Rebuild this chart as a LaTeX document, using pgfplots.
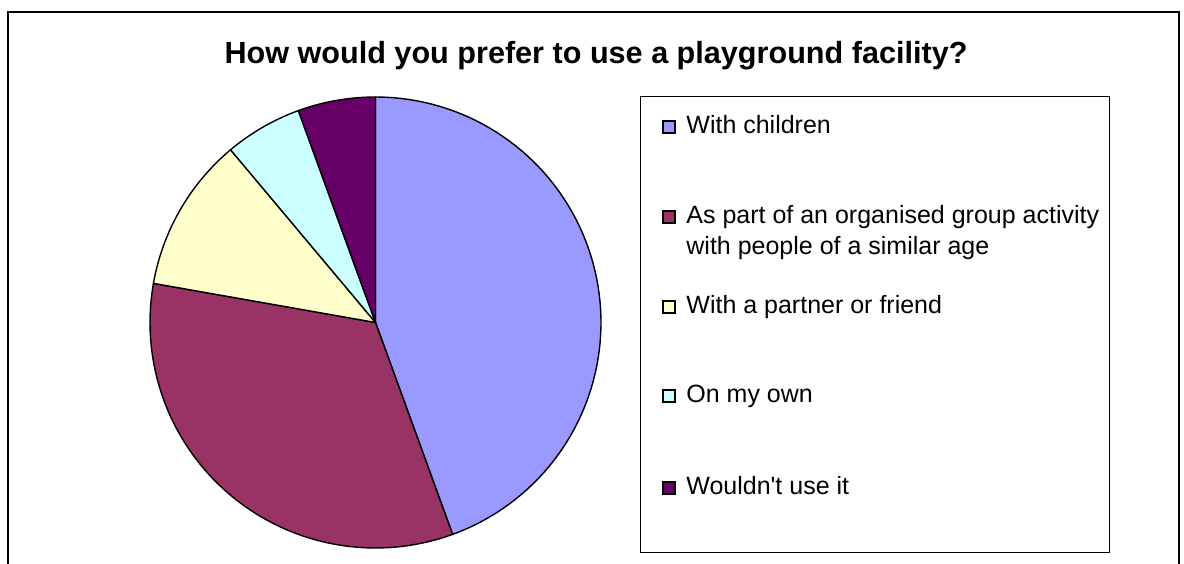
\documentclass[border=0pt]{standalone}
\usepackage{pgfplots}
\usepackage{pgfplotstable}
\pgfplotsset{compat=1.18}
\usepackage{fontspec}
\setmainfont{Liberation Sans}

\definecolor{c1}{HTML}{9999FF}
\definecolor{c2}{HTML}{993366}
\definecolor{c3}{HTML}{FFFFCC}
\definecolor{c4}{HTML}{CCFFFF}
\definecolor{c5}{HTML}{660066}

\pgfplotstableread{
label value
children 8
group 6
partner 2
own 1
wouldnt 1
}\piedata

\pgfplotstablegetelem{0}{value}\of\piedata \edef\vA{\pgfplotsretval}
\pgfplotstablegetelem{1}{value}\of\piedata \edef\vB{\pgfplotsretval}
\pgfplotstablegetelem{2}{value}\of\piedata \edef\vC{\pgfplotsretval}
\pgfplotstablegetelem{3}{value}\of\piedata \edef\vD{\pgfplotsretval}
\pgfplotstablegetelem{4}{value}\of\piedata \edef\vE{\pgfplotsretval}
\pgfmathsetmacro\tot{\vA+\vB+\vC+\vD+\vE}
\pgfmathsetmacro\aO{90}
\pgfmathsetmacro\aA{\aO-360*\vA/\tot}
\pgfmathsetmacro\aB{\aA-360*\vB/\tot}
\pgfmathsetmacro\aC{\aB-360*\vC/\tot}
\pgfmathsetmacro\aD{\aC-360*\vD/\tot}
\pgfmathsetmacro\aE{\aD-360*\vE/\tot}

\begin{document}
\begin{tikzpicture}[x=0.5pt,y=0.5pt]
\useasboundingbox (0,0) rectangle (1184,563);
% outer chart frame
\draw[line width=0.75pt] (8,-20) -- (8,551) -- (1179,551) -- (1179,-20);
% title
\node[anchor=base, font=\fontsize{15.3}{18}\selectfont\bfseries] at (596,499.7) {How would you prefer to use a playground facility?};
% pie
\begin{axis}[
  at={(187.75pt,120.25pt)}, anchor=center,
  width=225.5pt, height=225.5pt, scale only axis,
  xmin=-1, xmax=1, ymin=-1, ymax=1,
  hide axis, clip=false,
]
\addplot[fill=c1, draw=black, line width=0.7pt, line join=round, domain=\aA:\aO, samples=80] ({cos(x)},{sin(x)}) -- (axis cs:0,0) -- cycle;
\addplot[fill=c2, draw=black, line width=0.7pt, line join=round, domain=\aB:\aA, samples=60] ({cos(x)},{sin(x)}) -- (axis cs:0,0) -- cycle;
\addplot[fill=c3, draw=black, line width=0.7pt, line join=round, domain=\aC:\aB, samples=30] ({cos(x)},{sin(x)}) -- (axis cs:0,0) -- cycle;
\addplot[fill=c4, draw=black, line width=0.7pt, line join=round, domain=\aD:\aC, samples=20] ({cos(x)},{sin(x)}) -- (axis cs:0,0) -- cycle;
\addplot[fill=c5, draw=black, line width=0.7pt, line join=round, domain=\aE:\aD, samples=20] ({cos(x)},{sin(x)}) -- (axis cs:0,0) -- cycle;
\end{axis}
% legend
\draw[line width=0.5pt] (640,11) rectangle (1109,466);
\begin{scope}[every node/.style={anchor=base west, inner sep=0pt, font=\fontsize{12.5}{15.5}\selectfont}]
\filldraw[fill=c1, draw=black, line width=0.6pt] (663,430) rectangle (675,442);
\node at (686,429.5) {With children};
\filldraw[fill=c2, draw=black, line width=0.6pt] (663,340) rectangle (675,352);
\node at (686,339.5) {As part of an organised group activity};
\node at (686,308.5) {with people of a similar age};
\filldraw[fill=c3, draw=black, line width=0.6pt] (663,250) rectangle (675,262);
\node at (686,249.5) {With a partner or friend};
\filldraw[fill=c4, draw=black, line width=0.6pt] (663,161) rectangle (675,173);
\node at (686,160.5) {On my own};
\filldraw[fill=c5, draw=black, line width=0.6pt] (663,69) rectangle (675,81);
\node at (686,68.5) {Wouldn\textquotesingle t use it};
\end{scope}
\end{tikzpicture}
\end{document}
